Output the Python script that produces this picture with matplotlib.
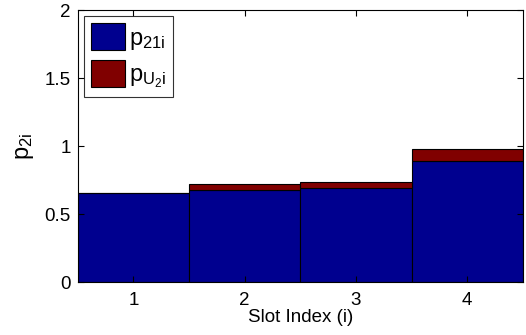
import matplotlib
matplotlib.use("Agg")
import matplotlib.pyplot as plt
import numpy as np

slots = [1, 2, 3, 4]
p21 = [0.655, 0.675, 0.695, 0.89]
pU2 = [0.0, 0.043, 0.040, 0.086]
xticks = [1, 2, 3, 4]
yticks = [0, 0.5, 1, 1.5, 2]
ytick_labels = ["0", "0.5", "1", "1.5", "2"]

plt.rcParams['font.family'] = ['Liberation Sans', 'DejaVu Sans']
plt.rcParams['mathtext.fontset'] = 'custom'
plt.rcParams['mathtext.rm'] = 'Liberation Sans'
plt.rcParams['mathtext.it'] = 'Liberation Sans'
plt.rcParams['mathtext.bf'] = 'Liberation Sans:bold'

fig = plt.figure(figsize=(5.26, 3.35), dpi=100)
ax = fig.add_axes([0.148, 0.158, 0.846, 0.812])

blue = '#00008f'
red = '#800000'
ax.bar(slots, p21, width=1.0, color=blue, edgecolor='black', linewidth=0.8,
       label=r'$\mathrm{p}_{\mathrm{21i}}$')
ax.bar(slots, pU2, width=1.0, bottom=p21, color=red, edgecolor='black', linewidth=0.8,
       label=r'$\mathrm{p}_{\mathrm{U}_{2}\mathrm{i}}$')

ax.set_xlim(0.5, 4.5)
ax.set_ylim(0, 2)
ax.set_xticks(xticks)
ax.set_yticks(yticks)
ax.set_yticklabels(ytick_labels)
ax.tick_params(direction='in', top=True, right=True, labelsize=13.5, length=4)
ax.tick_params(axis='x', pad=7)
ax.tick_params(axis='y', pad=5)
ax.set_xlabel('Slot Index (i)', fontsize=13.5, labelpad=0)
ax.set_ylabel(r'$\mathrm{p}_{\mathrm{2i}}$', fontsize=17, labelpad=6)

leg = ax.legend(loc='upper left', fontsize=17, frameon=True, fancybox=False,
                edgecolor='black', handlelength=1.45, handleheight=1.4,
                borderaxespad=0.25, borderpad=0.3, labelspacing=0.35, handletextpad=0.15)
leg.get_frame().set_linewidth(0.8)

fig.savefig('out.png', dpi=100)
